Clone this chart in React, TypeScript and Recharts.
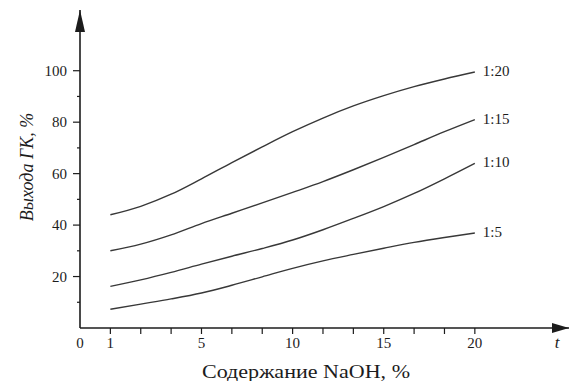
import { Customized, Line, LineChart, XAxis, YAxis } from "recharts";

// evenly spaced tick marks along the x axis (origin is one step left of "1")
const xSteps = [0, 1, 2, 3, 4, 5, 6, 7, 8, 9, 10, 11, 12];
const xTickValues = [-1, 0, 1, 2, 3, 4, 5, 6, 7, 8, 9, 10, 11, 12];
const xTickLabels = ["0", "1", "", "", "5", "", "", "10", "", "", "15", "", "", "20"];

const yTickValues = [10, 20, 30, 40, 50, 60, 70, 80, 90, 100];
const yMajorTicks = [20, 40, 60, 80, 100];

const seriesNames = ["1:20", "1:15", "1:10", "1:5"];
const ratio20 = [44.0, 47.3, 52.0, 58.0, 64.3, 70.4, 76.3, 81.6, 86.3, 90.3, 93.8, 96.8, 99.5];
const ratio15 = [30.0, 32.6, 36.2, 40.6, 44.6, 48.6, 52.7, 56.9, 61.5, 66.3, 71.3, 76.3, 81.0];
const ratio10 = [16.2, 18.7, 21.6, 24.8, 27.9, 30.9, 34.2, 38.2, 42.6, 47.2, 52.3, 58.0, 64.0];
const ratio5 = [7.3, 9.3, 11.3, 13.6, 16.6, 19.9, 23.2, 26.1, 28.6, 31.0, 33.3, 35.2, 36.9];

const data = xSteps.map((s, i) => ({
  s,
  r20: ratio20[i],
  r15: ratio15[i],
  r10: ratio10[i],
  r5: ratio5[i],
}));

const W = 569;
const H = 381;
const AXIS_X = 80;
const AXIS_Y = 328;
const INK = "#1c1c1c";
const LINE = "#383838";
const FONT = "'Liberation Serif', 'Times New Roman', serif";

function YTick(props: any) {
  const { y, payload } = props;
  const major = yMajorTicks.includes(payload.value);
  return (
    <g>
      <line x1={major ? AXIS_X - 7 : AXIS_X - 3} x2={AXIS_X} y1={y} y2={y} stroke={INK} strokeWidth={1.2} />
      {major && (
        <text x={AXIS_X - 13} y={y} dy={5} textAnchor="end" fontSize={15} fontFamily={FONT} fill={INK}>
          {payload.value}
        </text>
      )}
    </g>
  );
}

function XTick(props: any) {
  const { x, payload } = props;
  const i = xTickValues.indexOf(payload.value);
  return (
    <g>
      {payload.value >= 0 && (
        <line x1={x} x2={x} y1={AXIS_Y} y2={AXIS_Y + 6} stroke={INK} strokeWidth={1.2} />
      )}
      <text x={x} y={AXIS_Y + 20} textAnchor="middle" fontSize={15} fontFamily={FONT} fill={INK}>
        {xTickLabels[i]}
      </text>
    </g>
  );
}

const endLabel = (name: string) => (props: any) => {
  const { x, y, index } = props;
  if (index !== xSteps.length - 1) return null;
  return (
    <text x={x + 8} y={y} dy={4} fontSize={15} fontFamily={FONT} fill={INK}>
      {name}
    </text>
  );
};

function Decorations() {
  return (
    <g>
      {/* arrow heads */}
      <polygon points={`${AXIS_X},10 ${AXIS_X - 5},32 ${AXIS_X + 5},32`} fill={INK} />
      <polygon points={`${W},${AXIS_Y} ${W - 17},${AXIS_Y - 5} ${W - 17},${AXIS_Y + 5}`} fill={INK} />
      <text x={557} y={AXIS_Y + 20} textAnchor="middle" fontSize={17} fontStyle="italic" fontFamily={FONT} fill={INK}>
        t
      </text>
      <text
        x={306}
        y={378}
        textAnchor="middle"
        fontSize={19}
        fontFamily={FONT}
        fill={INK}
        textLength={208}
        lengthAdjust="spacingAndGlyphs"
      >
        Содержание NaOH, %
      </text>
      <text
        x={0}
        y={0}
        transform="translate(33,167) rotate(-90)"
        textAnchor="middle"
        fontSize={18}
        fontStyle="italic"
        fontFamily={FONT}
        fill={INK}
      >
        Выхода ГК, %
      </text>
    </g>
  );
}

export default function App() {
  return (
    <div style={{ position: "absolute", left: 0, top: 0, width: W, height: H, background: "#fff" }}>
      <LineChart width={W} height={H} data={data} margin={{ top: 10, right: 0, bottom: 23, left: 0 }}>
        <XAxis
          dataKey="s"
          type="number"
          domain={[-1, 15.1]}
          ticks={xTickValues}
          interval={0}
          allowDataOverflow
          axisLine={{ stroke: INK, strokeWidth: 1.6 }}
          tickLine={false}
          tick={<XTick />}
          height={30}
        />
        <YAxis
          type="number"
          domain={[0, 123.6]}
          ticks={yTickValues}
          interval={0}
          allowDataOverflow
          axisLine={{ stroke: INK, strokeWidth: 1.6 }}
          tickLine={false}
          tick={<YTick />}
          width={80}
        />
        <Line type="monotone" dataKey="r20" name={seriesNames[0]} stroke={LINE} strokeWidth={1.4} dot={false} isAnimationActive={false} label={endLabel(seriesNames[0])} />
        <Line type="monotone" dataKey="r15" name={seriesNames[1]} stroke={LINE} strokeWidth={1.4} dot={false} isAnimationActive={false} label={endLabel(seriesNames[1])} />
        <Line type="monotone" dataKey="r10" name={seriesNames[2]} stroke={LINE} strokeWidth={1.4} dot={false} isAnimationActive={false} label={endLabel(seriesNames[2])} />
        <Line type="monotone" dataKey="r5" name={seriesNames[3]} stroke={LINE} strokeWidth={1.4} dot={false} isAnimationActive={false} label={endLabel(seriesNames[3])} />
        <Customized component={Decorations} />
      </LineChart>
    </div>
  );
}
